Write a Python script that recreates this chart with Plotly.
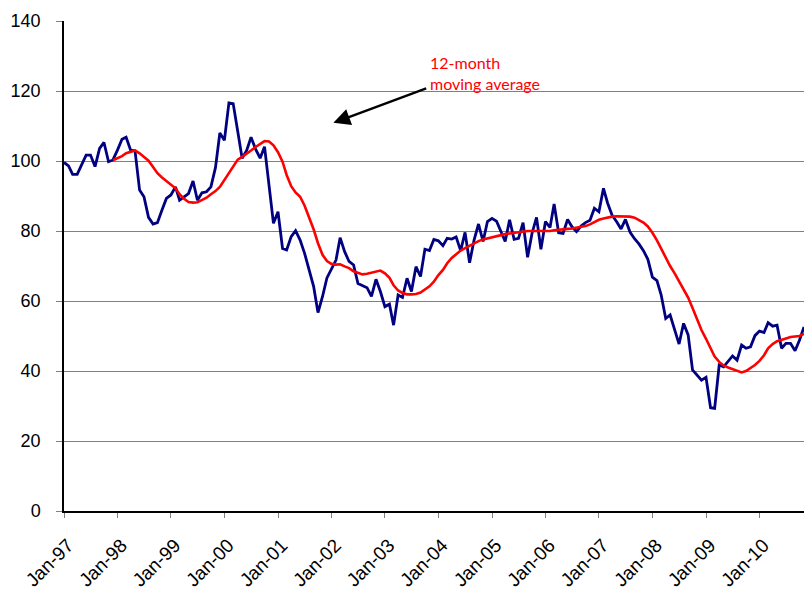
import plotly.graph_objects as go
import pandas as pd

# Monthly index, Jan-1997 .. Nov-2010
dates = pd.date_range("1997-01-01", periods=167, freq="MS")

index_values = [
    99.6, 98.6, 96.2, 96.2, 98.9, 101.7, 101.7, 98.4, 103.6, 105.3, 99.8, 100.3,
    103.1, 106.2, 106.8, 103.1, 102.9, 91.7, 89.8, 83.9, 82.0, 82.4, 86.0, 89.3,
    90.3, 92.6, 88.8, 89.8, 90.7, 94.3, 88.8, 90.9, 91.2, 92.6, 98.1, 108.0,
    105.9, 116.6, 116.4, 108.5, 100.8, 103.0, 106.8, 103.4, 100.8, 104.1, 92.7, 82.2,
    85.5, 75.0, 74.6, 78.4, 80.1, 77.4, 73.7, 68.9, 64.2, 56.7, 61.3, 66.6,
    69.4, 71.7, 78.1, 74.1, 71.3, 70.3, 65.0, 64.3, 63.8, 61.3, 66.2, 62.7,
    58.4, 59.1, 53.1, 61.7, 61.0, 66.5, 62.7, 69.8, 67.0, 74.8, 74.4, 77.6,
    77.2, 75.8, 77.9, 77.7, 78.3, 74.4, 79.6, 70.9, 77.5, 82.0, 77.0, 82.7,
    83.6, 82.8, 80.2, 77.0, 83.2, 77.6, 77.9, 82.4, 72.5, 79.3, 83.9, 74.8,
    82.7, 81.0, 87.7, 79.5, 79.3, 83.3, 81.2, 79.8, 81.4, 82.4, 83.1, 86.5,
    85.5, 92.2, 88.0, 84.5, 82.7, 80.6, 83.3, 79.7, 77.8, 76.3, 74.4, 71.9,
    66.8, 65.8, 61.7, 55.0, 56.0, 51.7, 47.7, 53.6, 50.3, 40.3, 38.9, 37.4,
    38.2, 29.5, 29.3, 41.7, 41.2, 42.7, 44.3, 43.1, 47.4, 46.5, 46.9, 50.1,
    51.4, 51.0, 53.8, 52.8, 53.1, 46.5, 47.9, 47.9, 45.8, 48.8, 52.6,
]

# 12-month moving average (starts Dec-1997)
ma_start = 11
ma_values = [
    100.2,
    100.7, 101.4, 102.2, 102.7, 103.0, 102.2, 101.2, 100.1, 98.3, 96.5, 95.3, 94.3,
    93.2, 92.2, 90.5, 89.2, 88.3, 88.1, 88.2, 88.9, 89.5, 90.5, 91.4, 92.6,
    94.5, 96.5, 98.5, 100.4, 101.2, 102.0, 103.0, 104.0, 105.0, 105.7, 105.6, 104.5,
    102.5, 99.8, 96.0, 92.8, 91.0, 89.8, 87.3, 84.0, 80.5, 76.5, 73.2, 71.4,
    70.6, 70.4, 70.5, 69.9, 69.4, 68.5, 68.0, 67.6, 67.8, 68.1, 68.6, 68.7,
    67.9, 66.6, 64.5, 63.0, 62.3, 61.9, 61.9, 62.0, 62.4, 63.3, 64.2, 65.5,
    67.4, 68.9, 70.8, 72.3, 73.4, 74.4, 75.1, 75.8, 76.6, 77.1, 77.6, 77.9,
    78.3, 78.6, 79.0, 79.1, 79.3, 79.5, 79.7, 79.8, 80.0, 80.0, 80.0, 79.9,
    79.8, 80.0, 80.2, 80.4, 80.5, 80.6, 80.7, 80.9, 81.1, 81.4, 81.9, 82.6,
    83.2, 83.6, 83.9, 84.1, 84.2, 84.2, 84.2, 84.1, 83.8, 83.2, 82.4, 81.3,
    79.5, 77.3, 74.8, 72.3, 70.0, 67.9, 65.5, 63.3, 61.0, 58.0, 54.8, 51.7,
    49.2, 46.6, 44.1, 42.6, 41.6, 41.0, 40.5, 40.0, 39.6, 40.0, 40.8, 41.7,
    42.9, 44.5, 46.5, 47.7, 48.5, 49.0, 49.3, 49.7, 49.8, 50.0, 50.6,
]

tick_dates = pd.date_range("1997-01-01", "2010-01-01", freq="YS")
tick_labels = ["Jan-%02d" % (d.year % 100) for d in tick_dates]
y_ticks = list(range(0, 141, 20))

fig = go.Figure()
fig.add_trace(go.Scatter(
    x=dates, y=index_values, mode="lines",
    line=dict(color="#000080", width=2.8), hoverinfo="skip", showlegend=False,
    cliponaxis=False,
))
fig.add_trace(go.Scatter(
    x=dates[ma_start:ma_start + len(ma_values)], y=ma_values, mode="lines",
    line=dict(color="#FF0000", width=2.6), hoverinfo="skip", showlegend=False,
    cliponaxis=False,
))

# annotation text
fig.add_annotation(
    x="2003-10-25", y=131.5, xref="x", yref="y",
    text="12-month<br>moving average", showarrow=False,
    xanchor="left", yanchor="top", align="left",
    font=dict(family="Lato, Open Sans, sans-serif", size=16, color="#FF0000"),
)
# arrow
fig.add_annotation(
    x="2002-01-14", y=110.9, xref="x", yref="y",
    ax="2003-10-20", ay=120.9, axref="x", ayref="y",
    text="", showarrow=True, arrowhead=2, arrowsize=1.4, arrowwidth=2.4,
    arrowcolor="#000000", standoff=0,
)

fig.update_layout(
    width=804, height=591,
    margin=dict(l=64, r=0, t=21, b=80),
    plot_bgcolor="white", paper_bgcolor="white",
    font=dict(family="Arial, Liberation Sans, sans-serif", size=18, color="#000000"),
    showlegend=False,
)
fig.update_xaxes(
    range=[dates[0], dates[-1]],
    tickmode="array", tickvals=tick_dates, ticktext=tick_labels,
    tickangle=-45, ticks="outside", ticklen=5, tickcolor="#808080",
    showgrid=False, showline=True, linecolor="#000000", linewidth=1.5,
    tickfont=dict(size=19), zeroline=False,
    ticklabelstandoff=9, ticklabelshift=4, automargin=False,
)
fig.update_yaxes(
    range=[0, 140], tickmode="array", tickvals=y_ticks,
    ticks="outside", ticklen=6, tickcolor="#808080",
    showgrid=True, gridcolor="#808080", gridwidth=1,
    showline=True, linecolor="#000000", linewidth=1.5,
    tickfont=dict(size=18), zeroline=False, ticklabelstandoff=12,
    automargin=False,
)

fig.write_html(
    "out.html",
    config={"displayModeBar": False},
    post_script="document.body.style.margin='0';document.body.style.overflow='hidden';",
)
